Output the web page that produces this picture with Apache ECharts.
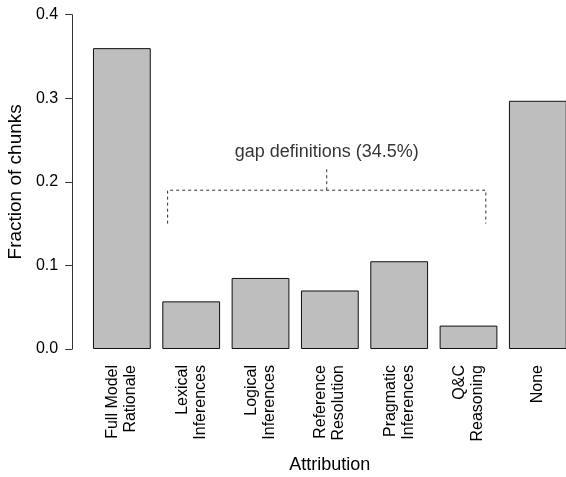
<!DOCTYPE html>
<html>
<head>
<meta charset="utf-8">
<script src="https://cdn.jsdelivr.net/npm/echarts@6/dist/echarts.min.js"></script>
<style>
html, body { margin: 0; padding: 0; background: #fff; }
#app { width: 566px; height: 477px; }
</style>
</head>
<body>
<div id="app"></div>
<script>
var categories = ['Full Model\nRationale', 'Lexical\nInferences', 'Logical\nInferences',
    'Reference\nResolution', 'Pragmatic\nInferences', 'Q&C\nReasoning', 'None'];
var fractions = [0.36, 0.057, 0.085, 0.070, 0.105, 0.028, 0.297];

// bracket over the "gap definition" bars, x in bar-index units
var bracketX = [0.66, 5.25];
var bracketY = [0.15, 0.19];
var bracketTickY = [0.19, 0.215];
var noteText = 'gap definitions (34.5%)';
var noteY = 0.236;

var font = 'Liberation Sans, Arial, Helvetica, sans-serif';
var midX = (bracketX[0] + bracketX[1]) / 2;

var option = {
    animation: false,
    textStyle: { fontFamily: font },
    grid: {
        left: 87.2,
        width: 485.3,
        top: 14.7,
        bottom: 128,
        containLabel: false,
        outerBoundsMode: 'none'
    },
    xAxis: [{
        type: 'category',
        data: categories,
        name: 'Attribution',
        nameLocation: 'middle',
        nameGap: 107,
        nameTextStyle: { fontSize: 18, color: '#000', fontFamily: font },
        axisLine: { show: false },
        axisTick: { show: false },
        axisLabel: {
            rotate: 90,
            margin: 16,
            interval: 0,
            fontSize: 16,
            lineHeight: 18,
            color: '#000',
            fontFamily: font
        }
    }, {
        type: 'value',
        min: -0.5,
        max: 6.5,
        show: false
    }],
    yAxis: {
        type: 'value',
        min: 0,
        max: 0.4,
        interval: 0.1,
        offset: 15,
        name: 'Fraction of chunks',
        nameLocation: 'middle',
        nameGap: 39,
        nameTextStyle: { fontSize: 19, color: '#000', fontFamily: font },
        axisLine: { show: true, onZero: false, lineStyle: { color: '#333', width: 1 } },
        axisTick: { show: true, length: 7, lineStyle: { color: '#333', width: 1 } },
        splitLine: { show: false },
        axisLabel: {
            margin: 14,
            fontSize: 16,
            color: '#000',
            fontFamily: font,
            formatter: function (v) { return v.toFixed(1); }
        }
    },
    series: [{
        type: 'bar',
        data: fractions,
        barCategoryGap: '16.67%',
        itemStyle: {
            color: '#bebebe',
            borderColor: '#111',
            borderWidth: 1
        }
    }, {
        type: 'line',
        xAxisIndex: 1,
        data: [
            [bracketX[0], bracketY[0]],
            [bracketX[0], bracketY[1]],
            [bracketX[1], bracketY[1]],
            [bracketX[1], bracketY[0]]
        ],
        symbol: 'none',
        lineStyle: { color: '#333', width: 1, type: [3, 3] }
    }, {
        type: 'line',
        xAxisIndex: 1,
        data: [[midX, bracketTickY[0]], [midX, bracketTickY[1]]],
        symbol: 'none',
        lineStyle: { color: '#333', width: 1, type: [3, 3] }
    }, {
        type: 'scatter',
        xAxisIndex: 1,
        data: [[midX, noteY]],
        symbolSize: 0,
        label: {
            show: true,
            position: 'inside',
            formatter: noteText,
            fontSize: 18,
            color: '#000',
            fontFamily: font
        }
    }]
};

var myChart = echarts.init(document.getElementById('app'));
myChart.setOption(option);
</script>
</body>
</html>
